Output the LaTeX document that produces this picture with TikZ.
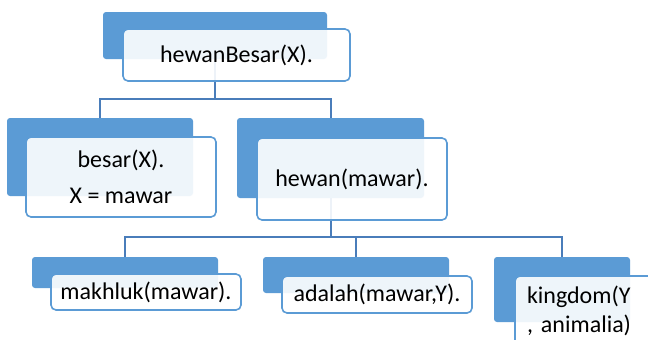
\documentclass[tikz,border=0pt]{standalone}
\usepackage{fontspec}
\setmainfont{Carlito}
\definecolor{accent}{HTML}{5B9BD5}
\definecolor{conn}{HTML}{4A7DBA}
\pgfdeclarelayer{paper}
\pgfdeclarelayer{background}
\pgfsetlayers{paper,background,main}
\tikzset{
  backbox/.style={draw=none, fill=accent, rounded corners=3pt, inner sep=0pt, outer sep=0pt},
  frontbox/.style={draw=accent, line width=1.6pt, fill=white, fill opacity=0.9, text opacity=1,
    rounded corners=5pt, inner sep=0pt, outer sep=0pt, font=\fontsize{24}{28.8}\selectfont, text=black},
  connector/.style={draw=conn, line width=2pt}
}
\begin{document}
\begin{tikzpicture}[x=1pt,y=-1pt]
\clip (0,0) rectangle (648,340);
\begin{pgfonlayer}{paper}
\fill[white] (0,0) rectangle (648,340);
\end{pgfonlayer}
% back rectangles
\node[backbox, minimum width=224pt, minimum height=47pt] (b0) at (215,35.5) {};
\node[backbox, minimum width=186pt, minimum height=78pt] (b1) at (100,157) {};
\node[backbox, minimum width=187pt, minimum height=80pt] (b2) at (330.5,158) {};
\node[backbox, minimum width=186pt, minimum height=31pt] (b3) at (125,272.5) {};
\node[backbox, minimum width=186pt, minimum height=36pt] (b4) at (356,275) {};
\node[backbox, minimum width=136pt, minimum height=65pt] (b5) at (562,289.5) {};
% front boxes
\node[frontbox, minimum width=227pt, minimum height=52pt] (w0) at (236.5,55) {hewanBesar(X).};
\node[frontbox, minimum width=190pt, minimum height=80pt, align=center] (w1) at (121,177) {besar(X).\\[7pt]X = mawar};
\node[frontbox, minimum width=190pt, minimum height=82pt] (w2) at (352,179) {hewan(mawar).};
\node[frontbox, minimum width=190pt, minimum height=36pt] (w3) at (146,292) {makhluk(mawar).};
\node[frontbox, minimum width=190pt, minimum height=37pt] (w4) at (377,294.5) {adalah(mawar,Y).};
\node[frontbox, minimum width=190pt, minimum height=70pt, text width=166pt, align=left] (w5) at (610,311) {kingdom(Y\\, animalia)};
% connectors
\coordinate (bus1) at (215,99);
\coordinate (bus2) at (330.5,237);
\begin{pgfonlayer}{background}
\draw[connector] (b0.center) -- (bus1) -| (b1.north);
\draw[connector] (bus1) -| (b2.north);
\draw[connector] (b2.center) -- (bus2) -| (b3.north);
\draw[connector] (bus2) -| (b4.north);
\draw[connector] (bus2) -| (b5.north);
\end{pgfonlayer}
\end{tikzpicture}
\end{document}
